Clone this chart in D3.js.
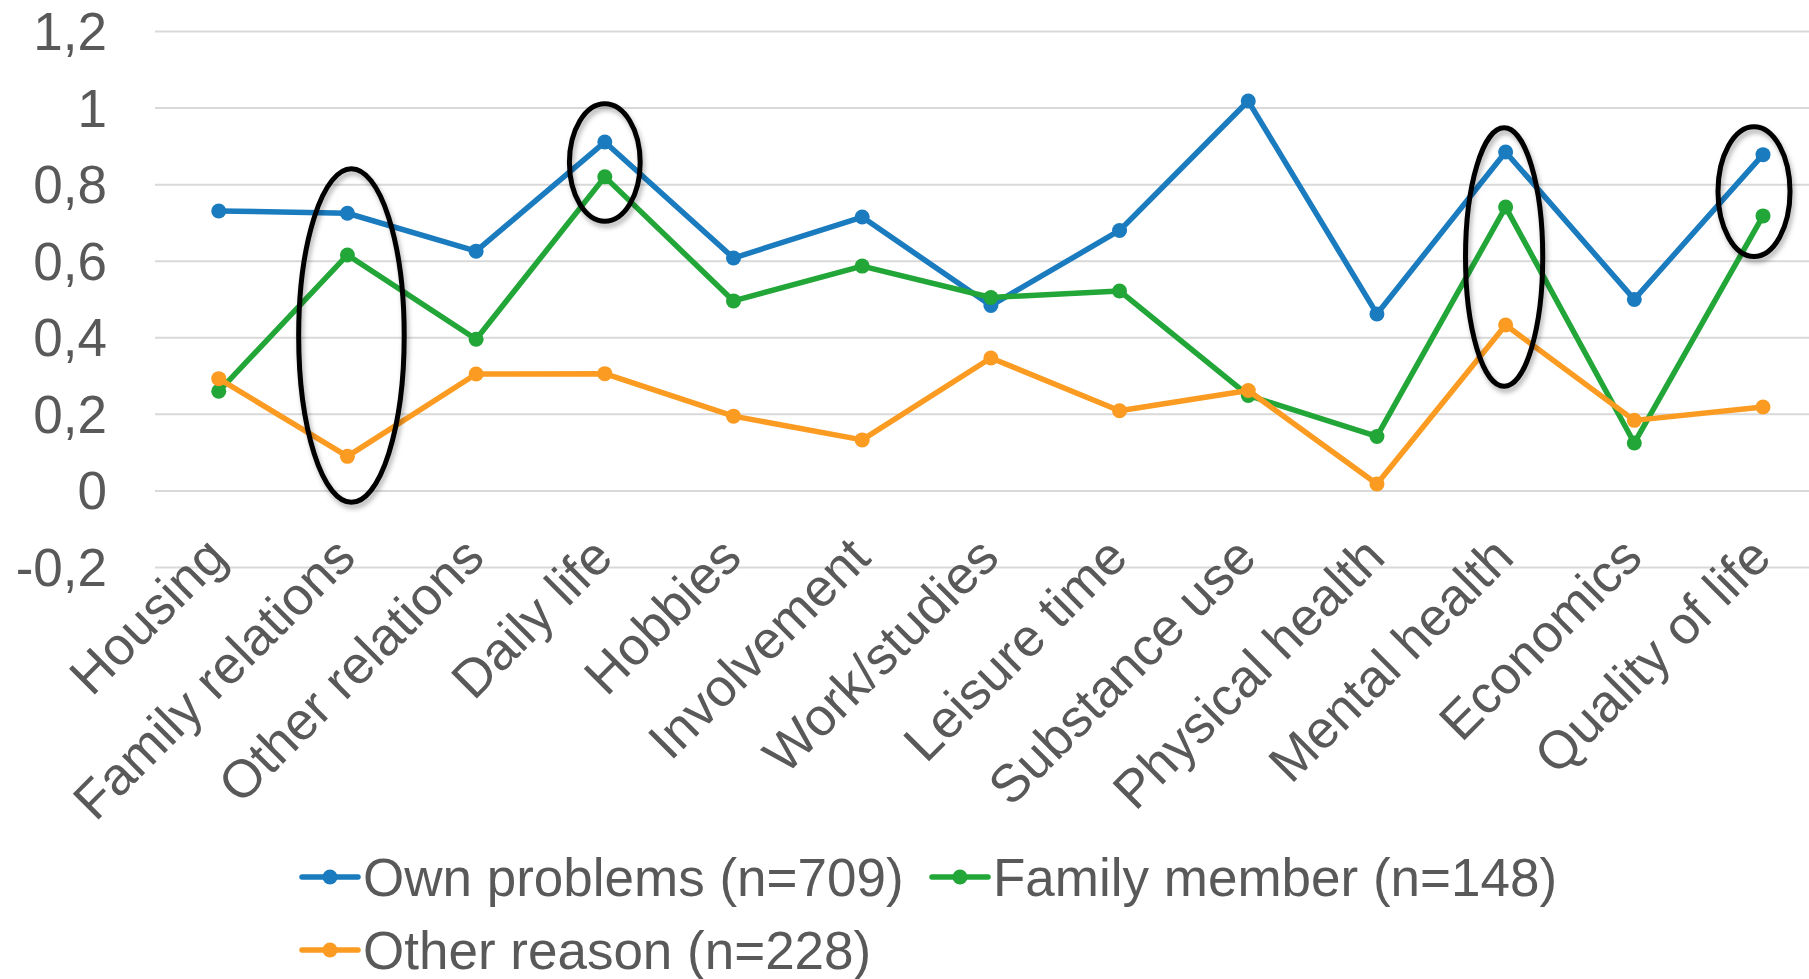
<!DOCTYPE html>
<html>
<head>
<meta charset="utf-8">
<script src="https://cdn.jsdelivr.net/npm/d3@7"></script>
<style>
  html, body { margin: 0; padding: 0; background: #fff; }
  svg { display: block; }
  text { font-family: "Liberation Sans", Arial, sans-serif; fill: #595959; }
</style>
</head>
<body>
<svg id="chart" width="1809" height="979"></svg>
<script>
// Domain areas shown on the x axis
const categories = [
  "Housing", "Family relations", "Other relations", "Daily life", "Hobbies",
  "Involvement", "Work/studies", "Leisure time", "Substance use",
  "Physical health", "Mental health", "Economics", "Quality of life"
];

// Mean change per area, one array per group
const ownProblems   = [0.730, 0.724, 0.625, 0.910, 0.607, 0.714, 0.483, 0.679, 1.017, 0.461, 0.884, 0.499, 0.877];
const familyMember  = [0.259, 0.615, 0.395, 0.819, 0.495, 0.586, 0.504, 0.521, 0.248, 0.141, 0.740, 0.124, 0.717];
const otherReason   = [0.292, 0.089, 0.304, 0.305, 0.194, 0.132, 0.346, 0.208, 0.261, 0.017, 0.432, 0.183, 0.218];

const seriesNames = ["Own problems (n=709)", "Family member (n=148)", "Other reason (n=228)"];

// Y axis ticks and their printed labels
const yTicks = [-0.2, 0, 0.2, 0.4, 0.6, 0.8, 1, 1.2];
const yTickLabels = ["-0,2", "0", "0,2", "0,4", "0,6", "0,8", "1", "1,2"];

// Highlighted areas: category and the value span that the ring encloses
const highlightCats = ["Family relations", "Daily life", "Mental health", "Quality of life"];
const highlightHigh = [0.840, 1.010, 0.947, 0.950];
const highlightLow  = [-0.031, 0.703, 0.272, 0.611];

const colors = ["#1a7bbf", "#22a638", "#fb9b22"];
const series = [ownProblems, familyMember, otherReason];

const svg = d3.select("#chart");
const W = 1809, H = 979;

const x = d3.scalePoint().domain(categories).range([218.75, 1763]);
const y = d3.scaleLinear().domain([-0.2, 1.2]).range([567, 31]);
const step = x.step();

// Shadow for the highlight rings
const defs = svg.append("defs");
const f = defs.append("filter").attr("id", "ringShadow")
  .attr("x", "-30%").attr("y", "-30%").attr("width", "160%").attr("height", "160%");
f.append("feDropShadow").attr("dx", 2).attr("dy", 4).attr("stdDeviation", 2.5)
  .attr("flood-color", "#000").attr("flood-opacity", 0.3);

// Horizontal gridlines
const yAxis = d3.axisLeft(y).tickValues(yTicks).tickSize(-(W - 155)).tickFormat((d, i) => yTickLabels[i]);
const gy = svg.append("g").attr("transform", "translate(155,0)").call(yAxis);
gy.select(".domain").remove();
gy.selectAll(".tick line").attr("stroke", "#d9d9d9").attr("stroke-width", 2);
gy.selectAll(".tick text")
  .attr("x", -48).attr("dy", "0.35em")
  .style("font-size", "53px").attr("text-anchor", "end").attr("fill", "#595959");

// Category labels, rotated
const xAxis = d3.axisBottom(x).tickSize(0);
const gx = svg.append("g").attr("transform", "translate(0,560)").call(xAxis);
gx.select(".domain").remove();
gx.selectAll(".tick text")
  .attr("transform", "translate(10,0) rotate(-45)")
  .attr("x", 0).attr("y", 0).attr("dy", 0)
  .attr("text-anchor", "end")
  .style("font-size", "53px").attr("fill", "#595959");

// Series lines and markers
const line = d3.line().x((d, i) => x(categories[i])).y(d => y(d));
series.forEach((vals, s) => {
  svg.append("path").datum(vals)
    .attr("d", line).attr("fill", "none")
    .attr("stroke", colors[s]).attr("stroke-width", 5.5)
    .attr("stroke-linejoin", "round");
  svg.append("g").selectAll("circle").data(vals).join("circle")
    .attr("cx", (d, i) => x(categories[i])).attr("cy", d => y(d))
    .attr("r", 7.5).attr("fill", colors[s]);
});

// Highlight rings
const ringWidth = [0.41, 0.275, 0.30, 0.28];
const ringShift = [4, 0, -1.5, -9];
highlightCats.forEach((c, i) => {
  const yTop = y(highlightHigh[i]), yBot = y(highlightLow[i]);
  svg.append("ellipse")
    .attr("cx", x(c) + ringShift[i])
    .attr("cy", (yTop + yBot) / 2)
    .attr("rx", ringWidth[i] * step)
    .attr("ry", (yBot - yTop) / 2)
    .attr("fill", "none").attr("stroke", "#000").attr("stroke-width", 5)
    .attr("filter", "url(#ringShadow)");
});

// Legend
const legendPos = [[302, 877], [932, 877], [302, 950]];
seriesNames.forEach((name, i) => {
  const g = svg.append("g").attr("transform", `translate(${legendPos[i][0]},${legendPos[i][1]})`);
  g.append("line").attr("x1", 0).attr("x2", 56).attr("y1", 0).attr("y2", 0)
    .attr("stroke", colors[i]).attr("stroke-width", 5.5).attr("stroke-linecap", "round");
  g.append("circle").attr("cx", 28).attr("cy", 0).attr("r", 7.5).attr("fill", colors[i]);
  g.append("text").attr("x", 61).attr("y", 0).attr("dy", "0.35em")
    .style("font-size", "53px").text(name);
});
</script>
</body>
</html>
